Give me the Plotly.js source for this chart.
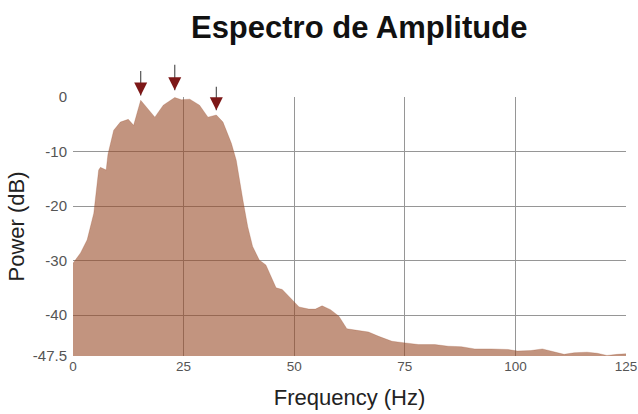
<!DOCTYPE html>
<html>
<head>
<meta charset="utf-8">
<script src="https://cdn.plot.ly/plotly-3.0.1.min.js"></script>
<style>
  html, body { margin: 0; padding: 0; background: #fff; }
  #chart { width: 638px; height: 414px; }
</style>
</head>
<body>
<div id="chart"></div>
<script>
// Amplitude spectrum: frequency (Hz) vs power (dB)
const freqHz = [0, 1.7, 3.2, 4.7, 5.8, 6.2, 7.5, 7.9, 9.2, 10.7, 12.5, 13.7, 15.3, 18.5, 20.4,
  23.0, 24.5, 26.4, 28.6, 30.5, 32.4, 33.9, 35.8, 36.9, 38.4, 39.5, 40.6, 42.1, 43.6, 45.9,
  47.3, 48.9, 51.1, 53.3, 54.8, 56.3, 58.2, 60.1, 61.9, 64.2, 66.8, 69.1, 72.1, 75.1, 78.1,
  81.8, 84.8, 87.8, 90.8, 94.5, 98.3, 100.5, 103.5, 106.1, 108.8, 111.0, 113.3, 116.2, 118.5,
  120.7, 123.0, 125];
const powerDb = [-30.5, -28.6, -26.2, -21.3, -13.4, -12.9, -13.4, -10.5, -6.1, -4.6, -4.1, -5.2, -0.6, -3.7, -1.5,
  -0.1, -0.5, -0.4, -1.5, -3.7, -3.3, -4.6, -8.5, -11.6, -18.9, -23.8, -27.4, -29.9, -30.8, -35.0,
  -35.3, -36.6, -38.5, -38.9, -38.9, -38.3, -39.0, -40.2, -42.5, -42.8, -43.1, -43.9, -44.8, -45.1, -45.4,
  -45.4, -45.7, -45.8, -46.2, -46.2, -46.3, -46.6, -46.5, -46.2, -46.8, -47.2, -46.9, -46.8, -47.0,
  -47.4, -47.2, -47.1];

// Axis setup
const xTicks = [0, 25, 50, 75, 100, 125];
const yTicks = [0, -10, -20, -30, -40, -47.5];
const floorDb = -47.5;

// Marked spectral peaks: frequency, arrow-tip height (fraction of plot height), shaft length (px)
const peakHz = [15.3, 23.0, 32.4];
const peakTip = [1.006, 1.026, 0.949];
const peakShaft = [-26, -27, -25];

const fillColor = 'rgba(150,70,35,0.58)';

const traces = [
  {
    x: [xTicks[0], xTicks[xTicks.length - 1]],
    y: [floorDb, floorDb],
    mode: 'lines',
    line: { width: 0, color: 'rgba(0,0,0,0)' },
    hoverinfo: 'skip',
    showlegend: false
  },
  {
    x: freqHz,
    y: powerDb,
    mode: 'lines',
    fill: 'tonexty',
    fillcolor: fillColor,
    line: { width: 0.6, color: 'rgba(150,70,35,0.4)' },
    showlegend: false
  }
];

const annotations = [];
peakHz.forEach((f, i) => {
  // grey shaft
  annotations.push({
    x: f, y: peakTip[i], xref: 'x', yref: 'paper',
    ax: 0, ay: peakShaft[i], text: '',
    showarrow: true, arrowhead: 0, arrowwidth: 1.2, arrowcolor: '#555555'
  });
  // dark red head
  annotations.push({
    x: f, y: peakTip[i], xref: 'x', yref: 'paper',
    ax: 0, ay: -8, text: '',
    showarrow: true, arrowhead: 2, arrowsize: 2.0, arrowwidth: 1.3, arrowcolor: '#7d1818'
  });
});

const layout = {
  width: 638,
  height: 414,
  margin: { l: 73, r: 12, t: 97, b: 58 },
  paper_bgcolor: '#ffffff',
  plot_bgcolor: '#ffffff',
  font: { family: 'Liberation Sans, Arial, sans-serif', color: '#333' },
  title: {
    text: '<b>Espectro de Amplitude</b>',
    font: { size: 31, color: '#111' },
    x: 0.563, xanchor: 'center',
    y: 0.935, yanchor: 'middle'
  },
  xaxis: {
    range: [0, 125],
    tickvals: xTicks,
    ticktext: xTicks.map(String),
    showgrid: true,
    gridcolor: '#969696',
    gridwidth: 1,
    zeroline: false,
    showline: false,
    ticks: '',
    ticklabeloverflow: 'allow',
    tickfont: { size: 13.5, color: '#555' },
    title: { text: 'Frequency (Hz)', font: { size: 22, color: '#222' }, standoff: 17 },
    automargin: false
  },
  yaxis: {
    range: [floorDb, 0],
    tickvals: yTicks,
    ticktext: yTicks.map(String),
    showgrid: true,
    gridcolor: '#969696',
    gridwidth: 1,
    zeroline: false,
    showline: false,
    ticks: '',
    ticklabelstandoff: 5,
    tickfont: { size: 15, color: '#555' },
    title: { text: 'Power (dB)', font: { size: 22, color: '#222' }, standoff: 2 },
    automargin: false
  },
  annotations: annotations,
  showlegend: false
};

Plotly.newPlot('chart', traces, layout, { displayModeBar: false, staticPlot: true });
</script>
</body>
</html>
